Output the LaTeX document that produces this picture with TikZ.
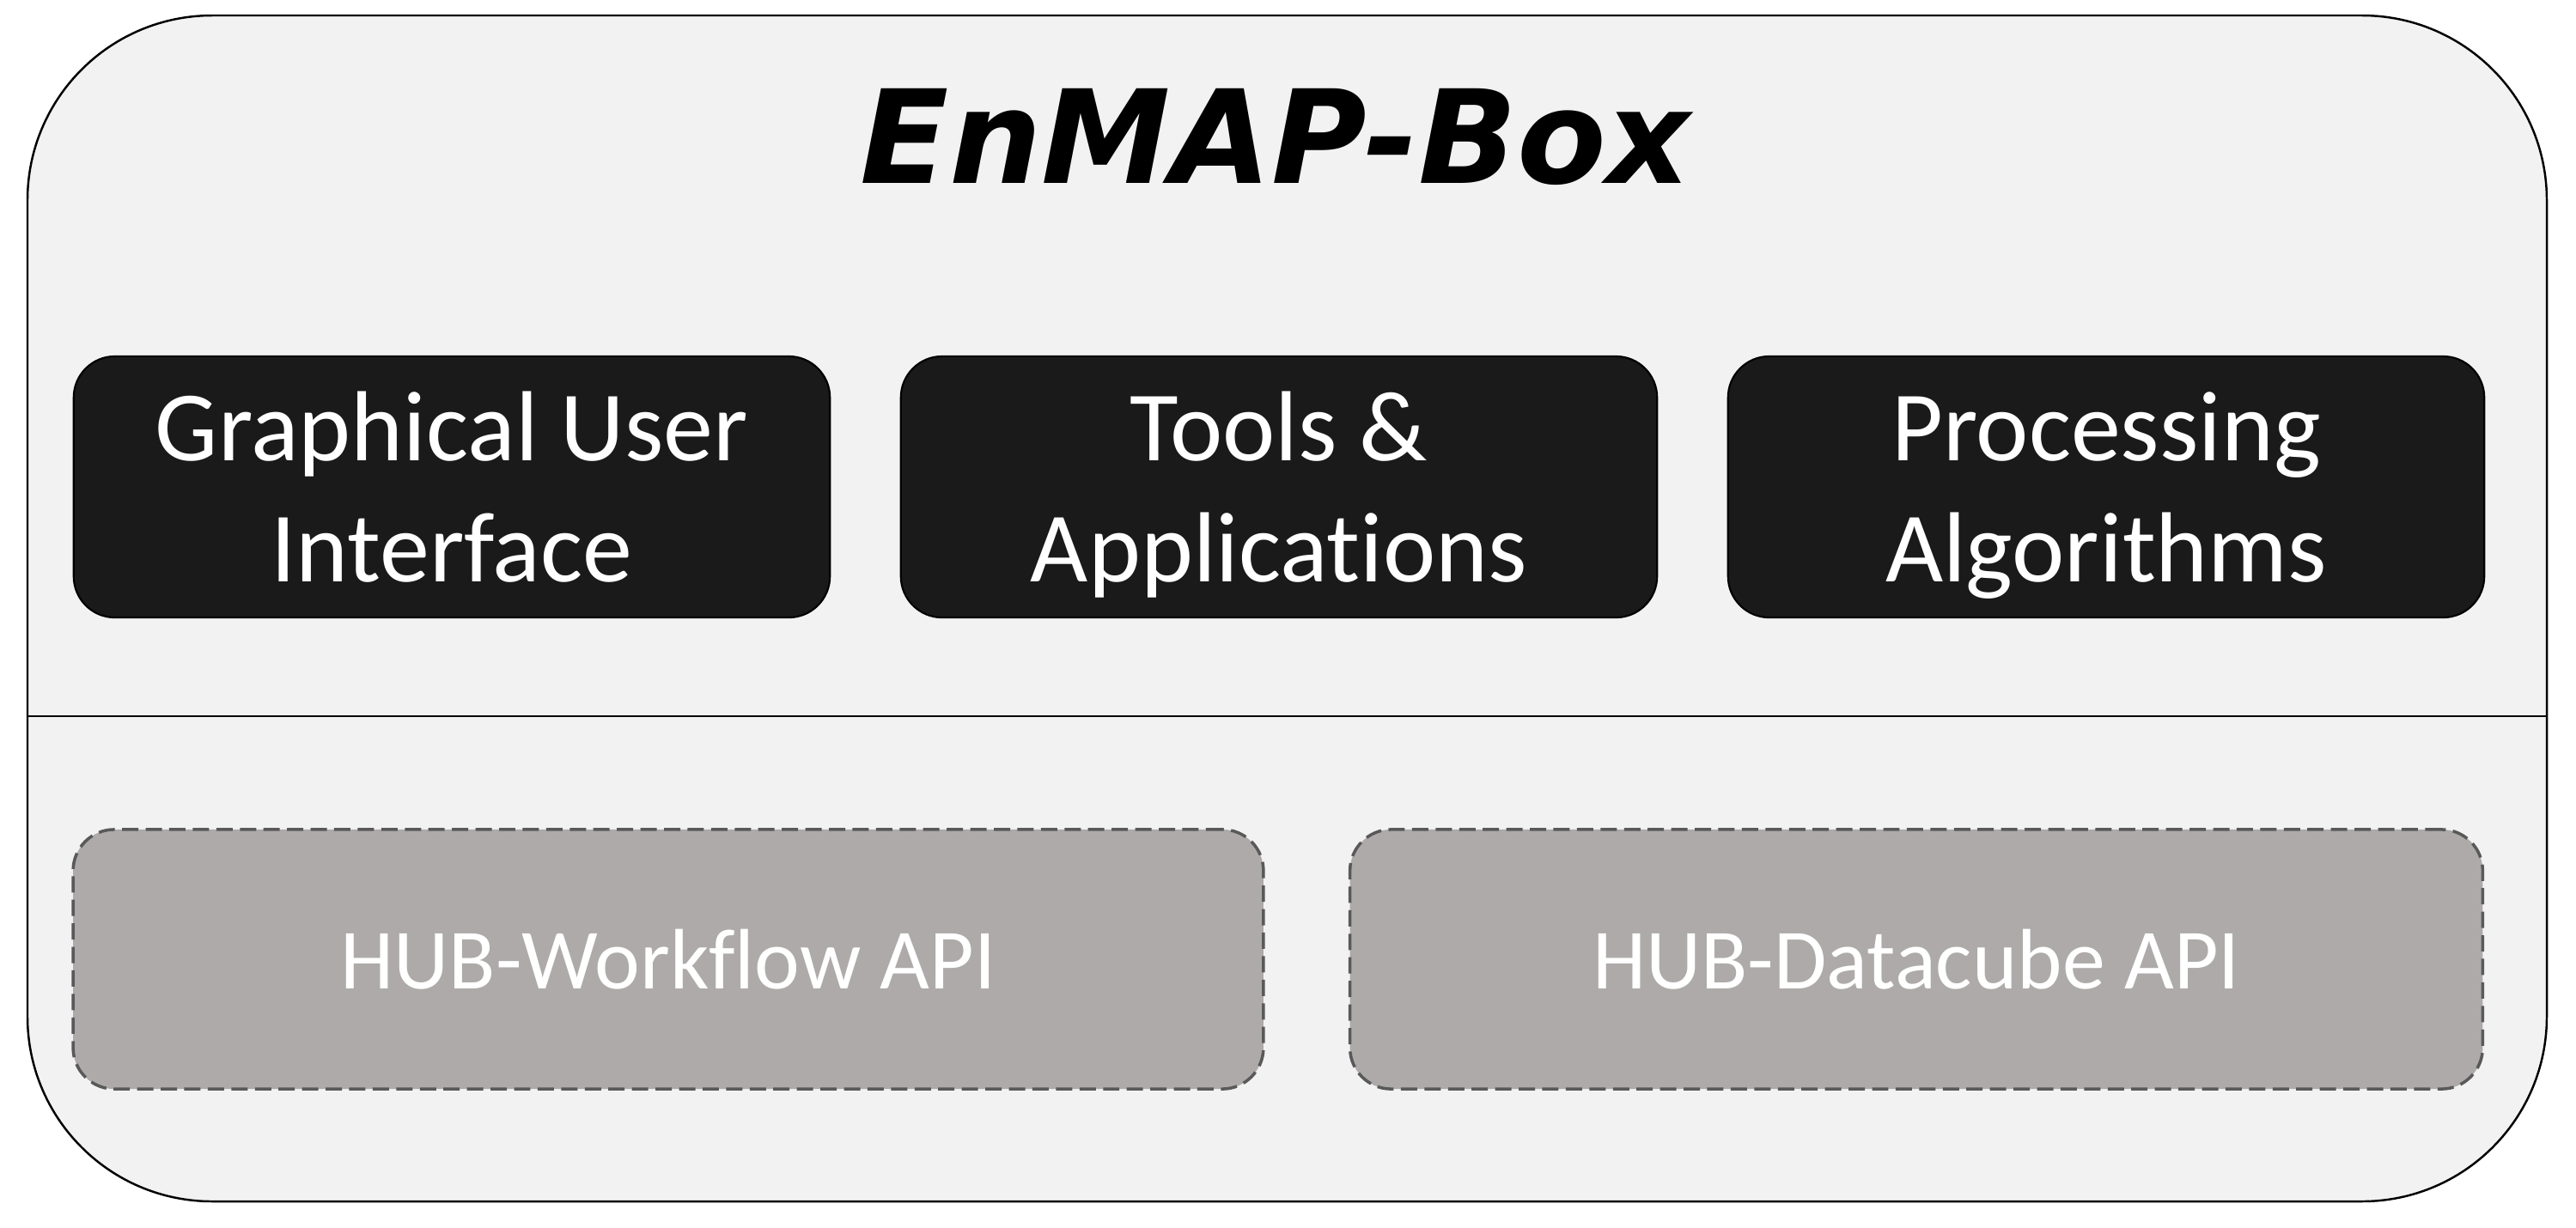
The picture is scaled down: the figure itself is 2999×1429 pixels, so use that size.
\documentclass[tikz,border=0pt]{standalone}
\usepackage{fontspec}
\setmainfont{Carlito}[Ligatures=NoCommon]
\newfontfamily\titlefont{DejaVu Sans}
\usetikzlibrary{calc}
\definecolor{panelgray}{HTML}{F2F2F2}
\definecolor{modblack}{HTML}{1A1A1A}
\definecolor{apigray}{HTML}{AEAAAA}
\definecolor{dashgray}{HTML}{595959}

\begin{document}
\begin{tikzpicture}[x=0.01cm,y=-0.01cm,
  module/.style={draw=black,line width=0.6pt,fill=modblack,text=white,rounded corners=0.48cm,
    minimum width=8.8cm,minimum height=3.04cm,align=center,text depth=0pt,font=\fontsize{33}{40}\selectfont},
  hubapi/.style={draw=dashgray,line width=1pt,dash pattern=on 5.4pt off 2.4pt,fill=apigray,
    text=white,rounded corners=0.48cm,minimum height=3.02cm,font=\fontsize{28.4}{34}\selectfont}]
\useasboundingbox (0,0) rectangle (2999,1429);
% Outer frame
\draw[fill=panelgray,line width=0.7pt,rounded corners=2.15cm] (32,18) rectangle (2965,1399);
% Divider between the two layers
\coordinate (divleft) at (32,834);
\coordinate (divright) at (2965,834);
\draw[line width=0.5pt] (divleft) -- (divright);
% Title
\node[anchor=base,font=\titlefont\bfseries\itshape\fontsize{43}{50}\selectfont] (title) at (1485,213) {EnMAP-Box};
% Upper layer: modules
\node[module] (gui) at (526,567) {Graphical User\\Interface};
\node[module] (tools) at (1489,567) {Tools \&\\Applications};
\node[module] (algos) at (2452,567) {Processing\\Algorithms};
% Lower layer: HUB APIs
\node[hubapi,minimum width=13.85cm] (workflow) at (778,1117) {HUB-Workflow API};
\node[hubapi,minimum width=13.18cm] (datacube) at (2231,1117) {HUB-Datacube API};
\end{tikzpicture}
\end{document}
